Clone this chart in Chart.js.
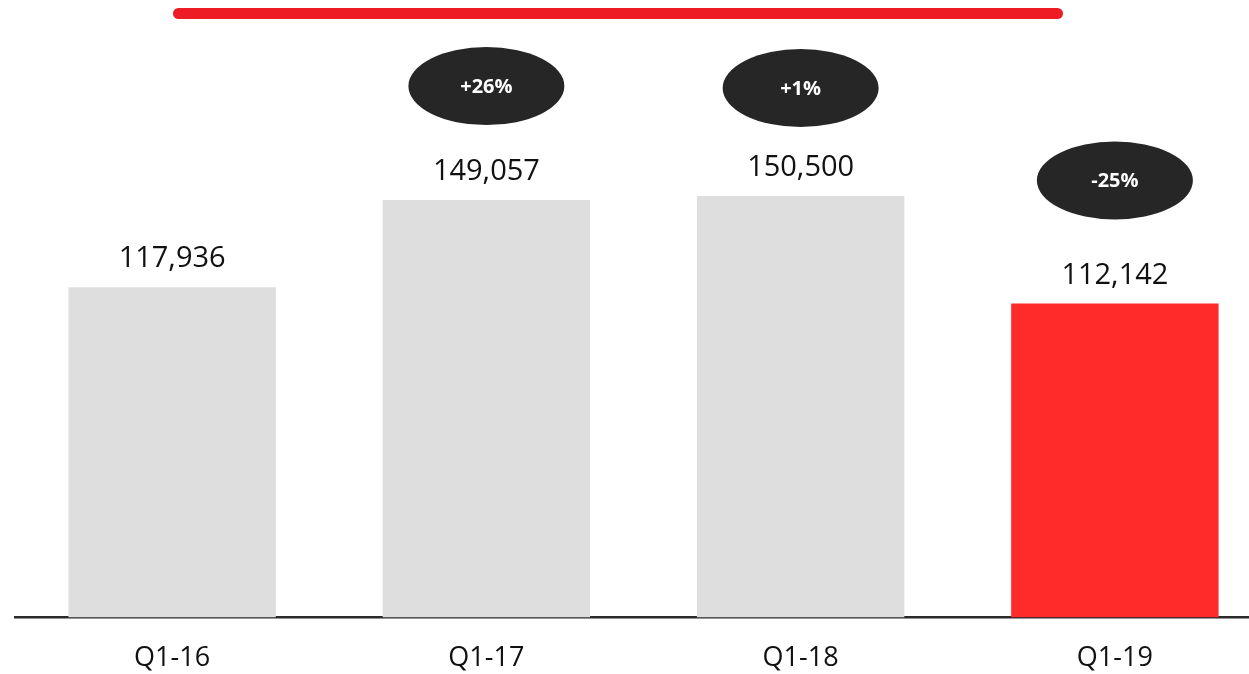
<!DOCTYPE html>
<html>
<head>
<meta charset="utf-8">
<script src="https://cdn.jsdelivr.net/npm/chart.js@4"></script>
<style>
  html, body { margin: 0; padding: 0; background: #fff; overflow: hidden; }
  #wrap { position: relative; width: 1272px; height: 700px; }
  #topBar {
    position: absolute; left: 173px; top: 8px; width: 890px; height: 11px;
    background: #ed1c24; border-radius: 6px;
  }
</style>
</head>
<body>
<div id="wrap">
  <canvas id="chart"></canvas>
  <div id="topBar"></div>
</div>
<script>
// chart data
const quarters = ['Q1-16', 'Q1-17', 'Q1-18', 'Q1-19'];
const volumes = [117936, 149057, 150500, 112142];
const changes = [null, '+26%', '+1%', '-25%'];
const barColors = ['#dedede', '#dedede', '#dedede', '#ff2a2a'];
// how far each growth bubble sits above its bar
const bubbleGap = [0, 114, 108, 123];

const fontName = "'Open Sans', 'Noto Sans', sans-serif";

// value labels and growth bubbles above each bar
const labelPlugin = {
  id: 'barLabels',
  afterDatasetsDraw(chart) {
    const ctx = chart.ctx;
    const meta = chart.getDatasetMeta(0);
    meta.data.forEach((bar, i) => {
      ctx.save();
      ctx.fillStyle = '#111';
      ctx.font = '29px ' + fontName;
      ctx.textAlign = 'center';
      ctx.textBaseline = 'alphabetic';
      ctx.fillText(volumes[i].toLocaleString('en-US'), bar.x, bar.y - 20);

      if (changes[i]) {
        const cy = bar.y - bubbleGap[i];
        ctx.beginPath();
        ctx.ellipse(bar.x, cy, 78, 39, 0, 0, Math.PI * 2);
        ctx.fillStyle = '#262626';
        ctx.fill();
        ctx.fillStyle = '#fff';
        ctx.font = 'bold 20px ' + fontName;
        ctx.textBaseline = 'middle';
        ctx.fillText(changes[i], bar.x, cy + 1);
      }
      ctx.restore();
    });
  }
};

const chart = new Chart(document.getElementById('chart'), {
  type: 'bar',
  data: {
    labels: quarters,
    datasets: [{
      data: volumes,
      backgroundColor: barColors,
      borderWidth: 0,
      categoryPercentage: 1,
      barPercentage: 0.66
    }]
  },
  options: {
    responsive: true,
    maintainAspectRatio: false,
    animation: false,
    layout: { padding: { left: 15, right: 0, top: 0, bottom: 0 } },
    plugins: {
      legend: { display: false },
      tooltip: { enabled: false }
    },
    scales: {
      x: {
        grid: { display: false, drawTicks: false },
        border: { display: true, color: '#2a2a2a', width: 2.5 },
        ticks: {
          color: '#111',
          padding: 25,
          font: { family: fontName, size: 27 }
        }
      },
      y: {
        display: false,
        min: 0,
        max: 220500
      }
    }
  },
  plugins: [labelPlugin]
});
</script>
</body>
</html>
